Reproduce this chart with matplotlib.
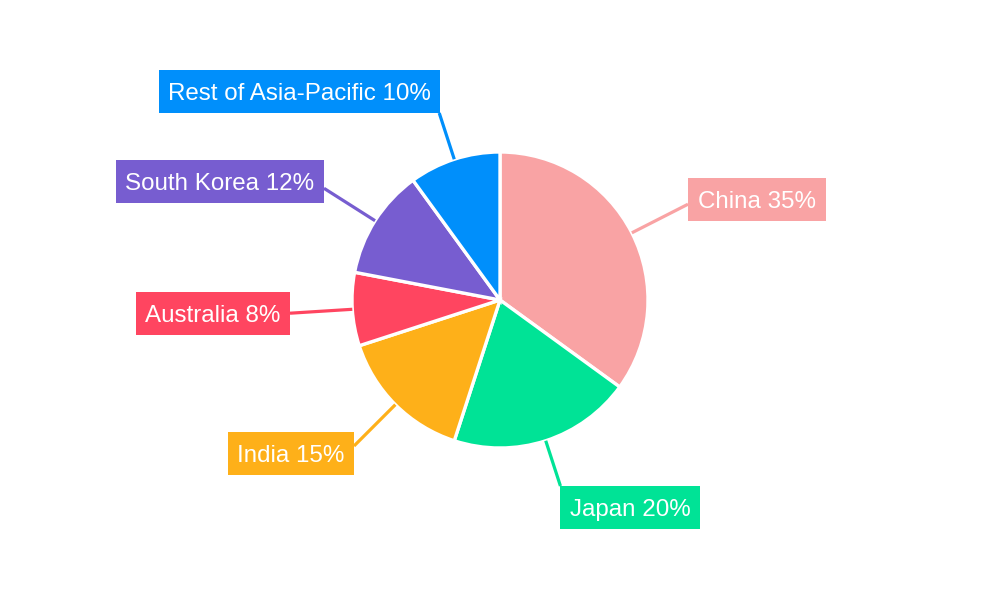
from matplotlib import pyplot as plt
from matplotlib.patches import Rectangle
import numpy as np

plt.rcParams['font.family'] = ['Liberation Sans', 'DejaVu Sans']

regions = ["China", "Japan", "India", "Australia", "South Korea", "Rest of Asia-Pacific"]
shares = [35, 20, 15, 8, 12, 10]
colors = ["#F9A3A4", "#00E396", "#FEB019", "#FF4560", "#775DD0", "#008FFB"]

# label boxes in pixel coords (left, top, right, bottom)
label_boxes = [
    (688, 178, 826, 221),
    (560, 486, 700, 529),
    (228, 432, 354, 475),
    (136, 292, 290, 335),
    (116, 160, 324, 203),
    (159, 70, 440, 113),
]

W, H = 1000, 600
cx, cy, r = 500, 300, 148


def ray_box(theta, box):
    # where the radial ray from the centre enters the label box
    x0, top, x1, bottom = box
    y0, y1 = H - bottom, H - top
    d = (np.cos(theta), np.sin(theta))
    tmin = 0
    for c, lo, hi, dv in ((cx, x0, x1, d[0]), (cy, y0, y1, d[1])):
        if abs(dv) < 1e-9:
            continue
        t1, t2 = (lo - c) / dv, (hi - c) / dv
        tmin = max(tmin, min(t1, t2))
    return cx + tmin * d[0], cy + tmin * d[1]


fig = plt.figure(figsize=(10, 6), dpi=100)
ax = fig.add_axes([0, 0, 1, 1])

ax.pie(shares, colors=colors, startangle=90, counterclock=False,
       center=(cx, cy), radius=r,
       wedgeprops=dict(edgecolor="white", linewidth=2.4))

total = sum(shares)
cum = 0
for name, v, col, box in zip(regions, shares, colors, label_boxes):
    mid = cum + v / 2
    cum += v
    theta = np.deg2rad(90 - 360 * mid / total)
    sx, sy = cx + r * np.cos(theta), cy + r * np.sin(theta)
    ex, ey = ray_box(theta, box)
    ax.plot([sx, ex], [sy, ey], color=col, lw=2.3, zorder=1, solid_capstyle="butt")
    x0, top, x1, bottom = box
    ax.add_patch(Rectangle((x0, H - bottom), x1 - x0, bottom - top,
                           facecolor=col, edgecolor="none", zorder=3))
    ax.text((x0 + x1) / 2, H - (top + bottom) / 2, f"{name} {v}%",
            ha="center", va="center_baseline", color="white", fontsize=17.4, zorder=4)

ax.set_xlim(0, W)
ax.set_ylim(0, H)
ax.set_aspect("equal")
ax.axis("off")

plt.savefig("out.png", dpi=100)
